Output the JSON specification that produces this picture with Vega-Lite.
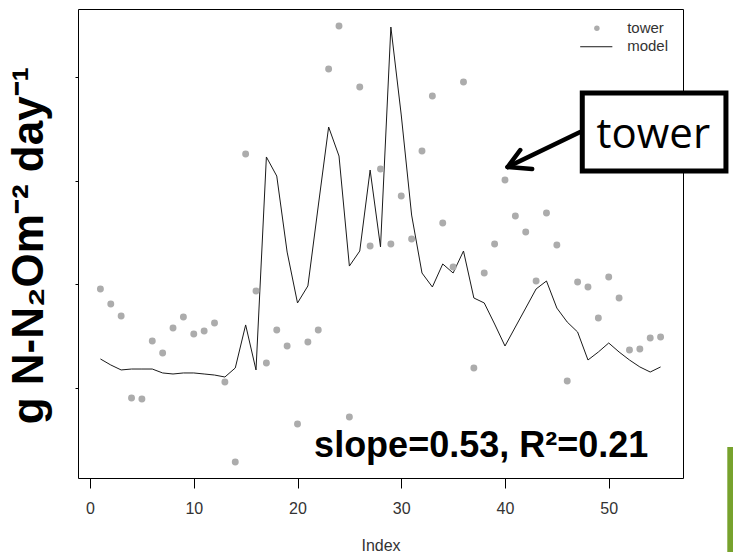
{
  "$schema": "https://vega.github.io/schema/vega-lite/v6.json",
  "width": 605,
  "height": 469,
  "autosize": {"type": "none"},
  "padding": {"left": 78, "top": 9, "right": 50, "bottom": 74},
  "background": "white",
  "config": {"view": {"stroke": "black", "strokeWidth": 1}, "font": "Liberation Sans"},
  "datasets": {
    "tower": [
      {"idx": 1, "val": 1.955}, {"idx": 2, "val": 1.810}, {"idx": 3, "val": 1.694}, {"idx": 4, "val": 0.904},
      {"idx": 5, "val": 0.894}, {"idx": 6, "val": 1.453}, {"idx": 7, "val": 1.338}, {"idx": 8, "val": 1.579},
      {"idx": 9, "val": 1.685}, {"idx": 10, "val": 1.521}, {"idx": 11, "val": 1.550}, {"idx": 12, "val": 1.627},
      {"idx": 13, "val": 1.058}, {"idx": 14, "val": 0.286}, {"idx": 15, "val": 3.256}, {"idx": 16, "val": 1.935},
      {"idx": 17, "val": 1.241}, {"idx": 18, "val": 1.559}, {"idx": 19, "val": 1.405}, {"idx": 20, "val": 0.653},
      {"idx": 21, "val": 1.444}, {"idx": 22, "val": 1.559}, {"idx": 23, "val": 4.076}, {"idx": 24, "val": 4.491},
      {"idx": 25, "val": 0.720}, {"idx": 26, "val": 3.903}, {"idx": 27, "val": 2.369}, {"idx": 28, "val": 3.112},
      {"idx": 29, "val": 2.389}, {"idx": 30, "val": 2.851}, {"idx": 31, "val": 2.437}, {"idx": 32, "val": 3.285},
      {"idx": 33, "val": 3.816}, {"idx": 34, "val": 2.591}, {"idx": 35, "val": 2.167}, {"idx": 36, "val": 3.951},
      {"idx": 37, "val": 1.193}, {"idx": 38, "val": 2.109}, {"idx": 39, "val": 2.389}, {"idx": 40, "val": 3.006},
      {"idx": 41, "val": 2.659}, {"idx": 42, "val": 2.504}, {"idx": 43, "val": 2.032}, {"idx": 44, "val": 2.688},
      {"idx": 45, "val": 2.379}, {"idx": 46, "val": 1.068}, {"idx": 47, "val": 2.022}, {"idx": 48, "val": 1.974},
      {"idx": 49, "val": 1.675}, {"idx": 50, "val": 2.070}, {"idx": 51, "val": 1.868}, {"idx": 52, "val": 1.366},
      {"idx": 53, "val": 1.376}, {"idx": 54, "val": 1.482}, {"idx": 55, "val": 1.492}
    ],
    "model": [
      {"idx": 1, "val": 1.280}, {"idx": 2, "val": 1.222}, {"idx": 3, "val": 1.174}, {"idx": 4, "val": 1.183},
      {"idx": 5, "val": 1.183}, {"idx": 6, "val": 1.183}, {"idx": 7, "val": 1.145}, {"idx": 8, "val": 1.135},
      {"idx": 9, "val": 1.145}, {"idx": 10, "val": 1.145}, {"idx": 11, "val": 1.135}, {"idx": 12, "val": 1.125},
      {"idx": 13, "val": 1.106}, {"idx": 14, "val": 1.193}, {"idx": 15, "val": 1.608}, {"idx": 16, "val": 1.174},
      {"idx": 17, "val": 3.228}, {"idx": 18, "val": 3.044}, {"idx": 19, "val": 2.311}, {"idx": 20, "val": 1.820},
      {"idx": 21, "val": 1.984}, {"idx": 22, "val": 2.755}, {"idx": 23, "val": 3.517}, {"idx": 24, "val": 3.237},
      {"idx": 25, "val": 2.176}, {"idx": 26, "val": 2.321}, {"idx": 27, "val": 3.102}, {"idx": 28, "val": 2.360},
      {"idx": 29, "val": 4.481}, {"idx": 30, "val": 3.633}, {"idx": 31, "val": 2.668}, {"idx": 32, "val": 2.109},
      {"idx": 33, "val": 1.974}, {"idx": 34, "val": 2.196}, {"idx": 35, "val": 2.109}, {"idx": 36, "val": 2.321},
      {"idx": 37, "val": 1.868}, {"idx": 38, "val": 1.820}, {"idx": 39, "val": 1.617}, {"idx": 40, "val": 1.405},
      {"idx": 41, "val": 1.588}, {"idx": 42, "val": 1.771}, {"idx": 43, "val": 1.955}, {"idx": 44, "val": 2.032},
      {"idx": 45, "val": 1.771}, {"idx": 46, "val": 1.636}, {"idx": 47, "val": 1.540}, {"idx": 48, "val": 1.270},
      {"idx": 49, "val": 1.347}, {"idx": 50, "val": 1.434}, {"idx": 51, "val": 1.347}, {"idx": 52, "val": 1.270},
      {"idx": 53, "val": 1.203}, {"idx": 54, "val": 1.154}, {"idx": 55, "val": 1.203}
    ]
  },
  "encoding": {
    "x": {
      "field": "idx", "type": "quantitative",
      "scale": {"domain": [-1.16, 57.16], "nice": false, "zero": false},
      "axis": {"title": "Index", "values": [0, 10, 20, 30, 40, 50], "domain": false, "grid": false,
        "tickSize": 10, "tickColor": "black", "labelFontSize": 16, "labelColor": "#333333", "labelPadding": 12,
        "titleFontSize": 16, "titleFontWeight": "normal", "titleColor": "#333333", "titleBaseline": "alphabetic", "titleY": 72}
    },
    "y": {
      "field": "val", "type": "quantitative",
      "scale": {"domain": [0.132, 4.655], "nice": false, "zero": false},
      "axis": {"title": "g N-N₂Om⁻² day⁻¹", "values": [1, 2, 3, 4], "labels": false, "domain": false, "grid": false,
        "tickSize": 3, "tickColor": "black", "titleFontSize": 44, "titleFontWeight": "bold", "titleColor": "black",
        "titleX": -27, "titleY": 236}
    }
  },
  "layer": [
    {"data": {"name": "model"}, "mark": {"type": "line", "color": "#1a1a1a", "strokeWidth": 1}},
    {"data": {"name": "tower"}, "mark": {"type": "point", "filled": true, "color": "#acacac", "size": 48, "opacity": 1}},
    {"data": {"values": [{"idx": 21.6, "val": 0.335, "label": "slope=0.53, R²=0.21"}]},
     "mark": {"type": "text", "align": "left", "baseline": "alphabetic", "fontSize": 36, "fontWeight": "bold", "color": "black"},
     "encoding": {"text": {"field": "label"}}},
    {"data": {"values": [{"idx": 47.45, "val": 3.845, "idx2": 61.3, "val2": 3.093}]},
     "mark": {"type": "rect", "fill": "white", "stroke": "black", "strokeWidth": 5},
     "encoding": {"x2": {"field": "idx2"}, "y2": {"field": "val2"}}},
    {"data": {"values": [
       {"idx": 47.25, "val": 3.469, "idx2": 40.26, "val2": 3.131},
       {"idx": 40.26, "val": 3.131, "idx2": 41.47, "val2": 3.295},
       {"idx": 40.26, "val": 3.131, "idx2": 42.62, "val2": 3.112}]},
     "mark": {"type": "rule", "color": "black", "strokeWidth": 4.5, "strokeCap": "round"},
     "encoding": {"x2": {"field": "idx2"}, "y2": {"field": "val2"}}},
    {"data": {"values": [{"idx": 54.3, "val": 3.314, "label": "tower"}]},
     "mark": {"type": "text", "align": "center", "baseline": "alphabetic", "fontSize": 42, "font": "Open Sans", "color": "black"},
     "encoding": {"text": {"field": "label"}}},
    {"data": {"values": [{"idx": 48.86, "val": 4.469}]},
     "mark": {"type": "point", "filled": true, "color": "#acacac", "size": 30, "opacity": 1}},
    {"data": {"values": [{"idx": 47.25, "val": 4.291, "idx2": 50.35}]},
     "mark": {"type": "rule", "color": "#1a1a1a", "strokeWidth": 1},
     "encoding": {"x2": {"field": "idx2"}}},
    {"data": {"values": [{"idx": 51.78, "val": 4.420, "label": "tower"}, {"idx": 51.78, "val": 4.253, "label": "model"}]},
     "mark": {"type": "text", "align": "left", "baseline": "alphabetic", "fontSize": 15, "color": "#333333"},
     "encoding": {"text": {"field": "label"}}},
    {"data": {"values": [{"idx": 61.43, "val": 0.431, "idx2": 62.6, "val2": -0.75}]},
     "mark": {"type": "rect", "fill": "#77a22d"},
     "encoding": {"x2": {"field": "idx2"}, "y2": {"field": "val2"}}}
  ]
}
